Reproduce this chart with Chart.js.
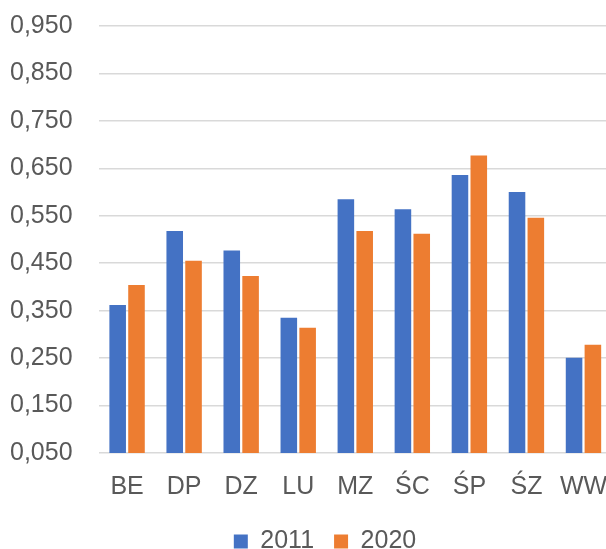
<!DOCTYPE html>
<html>
<head>
<meta charset="utf-8">
<script src="https://cdn.jsdelivr.net/npm/chart.js@4"></script>
<style>
  html, body { margin: 0; padding: 0; background: #fff; overflow: hidden; }
  #wrap { width: 612px; height: 549px; position: relative; }
</style>
</head>
<body>
<div id="wrap"><canvas id="grafico"></canvas></div>
<script>
const regioes = ['BE', 'DP', 'DZ', 'LU', 'MZ', 'ŚC', 'ŚP', 'ŚZ', 'WW'];
const valores2011 = [0.362, 0.518, 0.477, 0.335, 0.585, 0.564, 0.636, 0.600, 0.251];
const valores2020 = [0.404, 0.455, 0.423, 0.314, 0.518, 0.512, 0.677, 0.546, 0.278];
const series = ['2011', '2020'];

const fonte = "'Liberation Sans Narrow', 'Arial Narrow', 'Liberation Sans', Arial, sans-serif";
const cinza = '#595959';
const tam = 25;

// ajusta a posição da legenda (um pouco à direita e mais abaixo)
const moverLegenda = {
    id: 'moverLegenda',
    afterLayout(chart) {
        const l = chart.legend;
        if (l) {
            l.left += 14; l.right += 14;
            l.top += 7; l.bottom += 7;
        }
    }
};

const data = {
    labels: regioes,
    datasets: [{
        label: series[0],
        data: valores2011,
        backgroundColor: '#4472C4',
        categoryPercentage: 0.66,
        barPercentage: 0.88
    }, {
        label: series[1],
        data: valores2020,
        backgroundColor: '#ED7D31',
        categoryPercentage: 0.66,
        barPercentage: 0.88
    }]
};

const config = {
    type: 'bar',
    data: data,
    plugins: [moverLegenda],
    options: {
        responsive: true,
        maintainAspectRatio: false,
        animation: false,
        layout: { padding: { left: 10, right: 0, top: 26, bottom: 0 } },
        scales: {
            x: {
                grid: {
                    display: true, drawOnChartArea: false, drawTicks: true,
                    tickLength: 19, tickColor: 'rgba(0,0,0,0)', color: 'rgba(0,0,0,0)'
                },
                border: { display: false },
                ticks: {
                    color: cinza, font: { family: fonte, size: tam }, padding: 0,
                    maxRotation: 0, minRotation: 0, autoSkip: false
                }
            },
            y: {
                min: 0.05,
                max: 0.95,
                grid: {
                    color: '#d9d9d9', lineWidth: 1.5,
                    drawTicks: true, tickLength: 26, tickColor: 'rgba(0,0,0,0)'
                },
                border: { display: false },
                ticks: {
                    stepSize: 0.1,
                    color: cinza,
                    padding: 0,
                    font: { family: fonte, size: tam },
                    callback: (v) => v.toFixed(3).replace('.', ',')
                }
            }
        },
        plugins: {
            legend: {
                position: 'bottom',
                maxHeight: 47,
                labels: {
                    color: cinza,
                    font: { family: fonte, size: tam },
                    boxWidth: 14,
                    boxHeight: 14,
                    padding: 20
                }
            },
            tooltip: { enabled: false }
        }
    }
};

const grafico = new Chart(document.getElementById('grafico'), config);
</script>
</body>
</html>
